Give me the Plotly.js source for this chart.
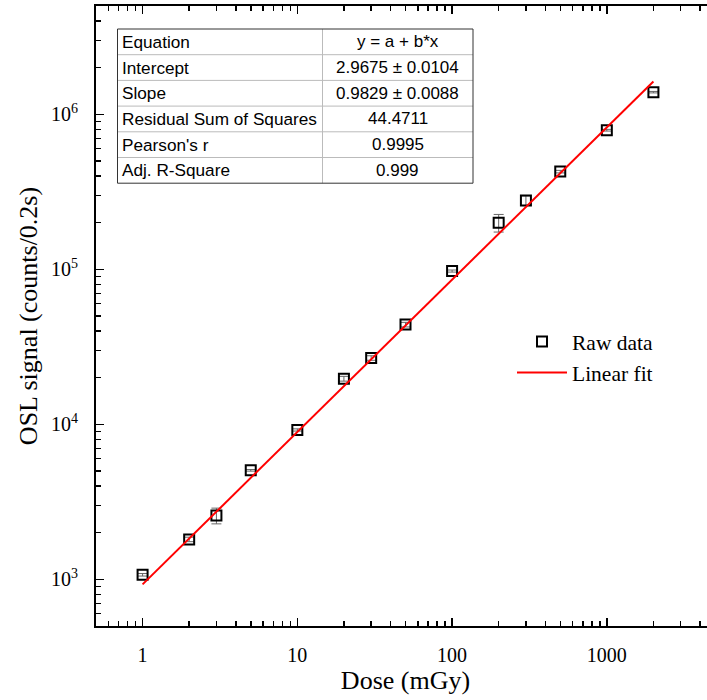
<!DOCTYPE html>
<html>
<head>
<meta charset="utf-8">
<script src="https://cdn.plot.ly/plotly-3.0.1.min.js"></script>
<style>
  html, body { margin: 0; padding: 0; overflow: hidden; background: #fff; }
  #chart { width: 725px; height: 700px; }
</style>
</head>
<body>
<div id="chart"></div>
<script>
// ---- data ----
const doseMGy = [1, 2, 3, 5, 10, 20, 30, 50, 100, 200, 300, 500, 1000, 2000];
const oslSignal = [1070, 1810, 2580, 5050, 9200, 19700, 26800, 44000, 97500, 200000, 278000, 427000, 790000, 1390000];
const oslError = [20, 60, 300, 60, 150, 700, 900, 1500, 1500, 26000, 20000, 8000, 10000, 15000];

const fitIntercept = 2.9675;   // log10 scale
const fitSlope = 0.9829;
const fitDose = [1, 2000];
const fitSignal = fitDose.map(d => Math.pow(10, fitIntercept + fitSlope * Math.log10(d)));

const xTickVals = [1, 10, 100, 1000];
const xTickText = ['1', '10', '100', '1000'];
const yTickVals = [1e3, 1e4, 1e5, 1e6];
const yTickText = ['10<sup>3</sup>', '10<sup>4</sup>', '10<sup>5</sup>', '10<sup>6</sup>'];

const tableLabels = ['Equation', 'Intercept', 'Slope', 'Residual Sum of Squares', "Pearson's r", 'Adj. R-Square'];
const tableValues = ['y = a + b*x', '2.9675 ± 0.0104', '0.9829 ± 0.0088', '44.4711', '0.9995', '0.999'];

// ---- layout geometry (pixels) ----
const W = 725, H = 700;
const M = { l: 96, r: 10, t: 6, b: 74 };
const PW = W - M.l - M.r, PH = H - M.t - M.b;
const px = x => (x - M.l) / PW;          // pixel -> paper x
const py = y => 1 - (y - M.t) / PH;      // pixel -> paper y

const serif = 'Liberation Serif, Times New Roman, serif';
const sans = 'Liberation Sans, Arial, sans-serif';

const traces = [
  {
    x: doseMGy, y: oslSignal, type: 'scatter', mode: 'markers', name: 'Raw data',
    marker: { symbol: 'square-open', size: 10, color: '#000', line: { width: 2, color: '#000' } },
    error_y: { type: 'data', array: oslError, visible: true, color: '#666', thickness: 1, width: 5 }
  },
  {
    x: fitDose, y: fitSignal, type: 'scatter', mode: 'lines', name: 'Linear fit',
    line: { color: '#ff0000', width: 2 }
  }
];

// table
const tL = 117.5, tR = 473, tT = 29, rowH = 25.7, tMid = 322.5;
const tB = tT + rowH * tableLabels.length;
const shapes = [];
for (let i = 1; i < tableLabels.length; i++) {
  const yy = tT + rowH * i;
  shapes.push({ type: 'line', xref: 'paper', yref: 'paper', x0: px(tL), x1: px(tR), y0: py(yy), y1: py(yy),
    line: { color: '#bbbbbb', width: 1 } });
}
shapes.push({ type: 'line', xref: 'paper', yref: 'paper', x0: px(tMid), x1: px(tMid), y0: py(tT), y1: py(tB),
  line: { color: '#bbbbbb', width: 1 } });
shapes.push({ type: 'rect', xref: 'paper', yref: 'paper', x0: px(tL), x1: px(tR), y0: py(tT), y1: py(tB),
  line: { color: '#333333', width: 1 } });

const annotations = [];
tableLabels.forEach((lab, i) => {
  const yc = tT + rowH * (i + 0.5);
  annotations.push({ xref: 'paper', yref: 'paper', x: px(tL + 2), y: py(yc), text: lab, showarrow: false,
    xanchor: 'left', yanchor: 'middle', font: { family: sans, size: 17.2, color: '#000' } });
  annotations.push({ xref: 'paper', yref: 'paper', x: px((tMid + tR) / 2), y: py(yc), text: tableValues[i], showarrow: false,
    xanchor: 'center', yanchor: 'middle', font: { family: sans, size: 17, color: '#000' } });
});

const axisCommon = {
  type: 'log', showgrid: false, zeroline: false,
  showline: true, linecolor: '#000', linewidth: 2, mirror: 'ticks',
  ticks: 'inside', ticklen: 8, tickwidth: 1.5, tickcolor: '#000',
  minor: { ticks: 'inside', ticklen: 5, tickwidth: 1.5, tickcolor: '#000', dtick: 'D1', showgrid: false },
  tickfont: { family: serif, size: 20, color: '#000' }
};

const layout = {
  width: W, height: H,
  margin: M,
  paper_bgcolor: '#fff', plot_bgcolor: '#fff',
  showlegend: true,
  legend: {
    x: px(512), y: py(321), xanchor: 'left', yanchor: 'top',
    bgcolor: 'rgba(0,0,0,0)', borderwidth: 0,
    font: { family: serif, size: 21.5, color: '#000' },
    itemwidth: 50, tracegroupgap: 0
  },
  xaxis: Object.assign({}, axisCommon, {
    range: [Math.log10(0.5), Math.log10(5000)],
    tickmode: 'array', tickvals: xTickVals, ticktext: xTickText,
    ticklabelstandoff: 10,
    title: { text: 'Dose (mGy)', font: { family: serif, size: 26, color: '#000' }, standoff: 6 }
  }),
  yaxis: Object.assign({}, axisCommon, {
    range: [Math.log10(500), Math.log10(5e6)],
    tickmode: 'array', tickvals: yTickVals, ticktext: yTickText,
    ticklabelstandoff: 12,
    title: { text: 'OSL signal (counts/0.2s)', font: { family: serif, size: 26, color: '#000' }, standoff: 6 }
  }),
  shapes: shapes,
  annotations: annotations
};

Plotly.newPlot('chart', traces, layout, { displayModeBar: false, staticPlot: true });
</script>
</body>
</html>
